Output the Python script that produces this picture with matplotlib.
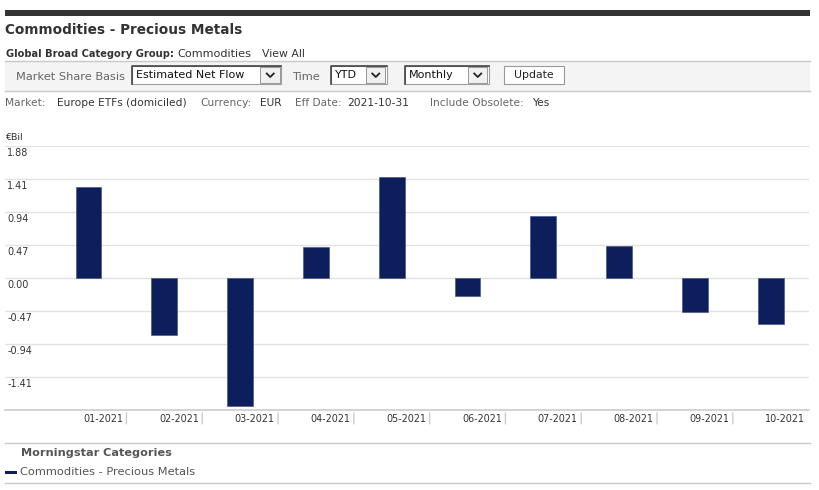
import matplotlib
matplotlib.use('Agg')
import matplotlib.pyplot as plt
from matplotlib.patches import Rectangle

# dados do gráfico
months = ['01-2021', '02-2021', '03-2021', '04-2021', '05-2021',
          '06-2021', '07-2021', '08-2021', '09-2021', '10-2021']
flows = [1.29, -0.81, -1.83, 0.44, 1.44, -0.25, 0.89, 0.46, -0.48, -0.66]
yticks = [1.88, 1.41, 0.94, 0.47, 0.00, -0.47, -0.94, -1.41]
series_name = 'Commodities - Precious Metals'

BAR_COLOR = '#0c1f5c'
GRID_COLOR = '#e2e2e2'
LABEL_GRAY = '#666666'
DARK = '#333333'

plt.rcParams['font.family'] = 'DejaVu Sans'

W, H = 820, 490
fig = plt.figure(figsize=(W / 100, H / 100), dpi=100)

# camada de fundo em coordenadas de pixel
bg = fig.add_axes([0, 0, 1, 1])
bg.set_xlim(0, W)
bg.set_ylim(H, 0)
bg.axis('off')

# barra escura do topo + título
bg.add_patch(Rectangle((5, 10), 805, 6.5, color='#333333', lw=0))
bg.text(5, 30, 'Commodities - Precious Metals', fontsize=9.8, weight='bold',
        color=DARK, va='center')
bg.text(6, 54, 'Global Broad Category Group:', fontsize=7.1, weight='bold',
        color=DARK, va='center')
bg.text(177, 54, 'Commodities', fontsize=8.1, color=DARK, va='center')
bg.text(262, 54, 'View All', fontsize=7.8, color=DARK, va='center')

# barra de ferramentas
bg.add_patch(Rectangle((5, 61.5), 805, 30, facecolor='#f4f4f4', lw=0))
bg.plot([5, 810], [61.5, 61.5], color='#c8c8c8', lw=1)
bg.plot([5, 810], [91.5, 91.5], color='#c8c8c8', lw=1)
bg.text(16, 77.5, 'Market Share Basis', fontsize=8.2, color=LABEL_GRAY, va='center')
bg.text(292, 77.5, 'Time', fontsize=8.2, color=LABEL_GRAY, va='center')


def dropdown(x0, x1, text):
    y0, y1 = 66, 84.5
    bg.add_patch(Rectangle((x0, y0), x1 - x0, y1 - y0, facecolor='white',
                           edgecolor='#a0a0a0', lw=0.8))
    bg.plot([x0, x0, x1], [y1, y0, y0], color='#444444', lw=1.2)
    bg.add_patch(Rectangle((x1 - 21, y0 + 1.5), 19.5, y1 - y0 - 3,
                           facecolor='#f0f0f0', edgecolor='#888888', lw=0.6))
    ax_ = x1 - 11.25
    bg.plot([ax_ - 3.5, ax_, ax_ + 3.5], [73.5, 77, 73.5], color='#222222', lw=1.3)
    bg.text(x0 + 4, 75.5, text, fontsize=8, color='#111111', va='center')


dropdown(132.5, 281.5, 'Estimated Net Flow')
dropdown(331, 387, 'YTD')
dropdown(405, 489, 'Monthly')
bg.add_patch(Rectangle((504, 66), 60, 18.5, facecolor='white',
                       edgecolor='#9a9a9a', lw=0.8))
bg.text(534, 75.5, 'Update', fontsize=7.8, color='#222222', va='center', ha='center')

# linha de informações
info = [(5, 'Market:', LABEL_GRAY), (57, 'Europe ETFs (domiciled)', DARK),
        (200, 'Currency:', LABEL_GRAY), (260, 'EUR', DARK),
        (295, 'Eff Date:', LABEL_GRAY), (347, '2021-10-31', DARK),
        (430, 'Include Obsolete:', LABEL_GRAY), (533, 'Yes', DARK)]
for x, s, c in info:
    bg.text(x, 103, s, fontsize=7.7, color=c, va='center')

bg.text(5, 137.5, '€Bil', fontsize=6.8, color=DARK, va='center')

# legenda inferior
bg.plot([5, 810], [442.5, 442.5], color='#c8c8c8', lw=1)
bg.plot([5, 810], [482.5, 482.5], color='#c8c8c8', lw=1)
bg.text(21, 453, 'Morningstar Categories', fontsize=8.1, weight='bold',
        color='#555555', va='center')
bg.add_patch(Rectangle((5, 470.5), 12, 3.5, color=BAR_COLOR, lw=0))
bg.text(20, 472, series_name, fontsize=8.2, color='#555555', va='center')

# eixo do gráfico
left, right, top, bottom = 5, 809, 146, 410
ax = fig.add_axes([left / W, 1 - bottom / H, (right - left) / W, (bottom - top) / H])
ax.patch.set_alpha(0)
x = list(range(len(months)))
ax.bar(x, flows, width=0.34, color=BAR_COLOR, edgecolor='#3a4a7c', lw=0.4, zorder=3)
ax.set_xlim(-1.102, 9.505)
ax.set_ylim(-1.88, 1.88)
for v in yticks:
    ax.axhline(v, color=GRID_COLOR, lw=1, zorder=1)
    ax.annotate(f'{v:.2f}', xy=(0, v), xycoords=('axes fraction', 'data'),
                xytext=(1.5, -4.8), textcoords='offset points',
                fontsize=6.9, color=DARK, va='center', ha='left')
ax.axhline(-1.88, color='#cccccc', lw=1.2, zorder=2, clip_on=False)
for i, m in enumerate(months):
    ax.annotate(m, xy=(i + 0.455, 0), xycoords=('data', 'axes fraction'),
                xytext=(0, -6.5), textcoords='offset points',
                fontsize=6.9, color=DARK, va='center', ha='right')
    if i < len(months) - 1:
        ax.annotate('', xy=(i + 0.5, 0), xycoords=('data', 'axes fraction'),
                    xytext=(i + 0.5, -12), textcoords=('data', 'offset points'),
                    arrowprops=dict(arrowstyle='-', color='#cccccc', lw=1))
ax.set_xticks([])
ax.set_yticks([])
for s in ax.spines.values():
    s.set_visible(False)

fig.savefig('out.png', dpi=100)
